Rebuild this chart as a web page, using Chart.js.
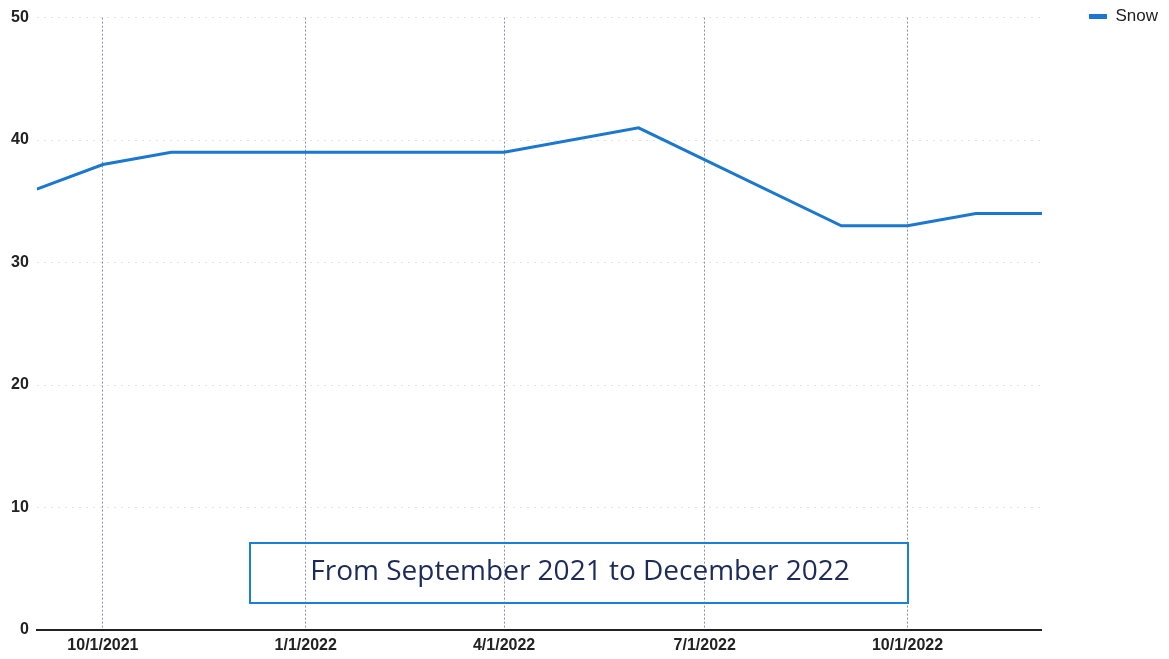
<!DOCTYPE html>
<html>
<head>
<meta charset="utf-8">
<script src="https://cdn.jsdelivr.net/npm/chart.js@4"></script>
<style>
  html, body { margin: 0; padding: 0; background: #fff; }
  #wrap { width: 1169px; height: 659px; }
</style>
</head>
<body>
<div id="wrap"><canvas id="snowChart"></canvas></div>
<script>
// data
const dates = ["2021-09-01", "2021-10-01", "2021-11-01", "2022-04-01", "2022-06-01",
               "2022-09-01", "2022-10-01", "2022-11-01", "2022-12-01"];
const snow = [36, 38, 39, 39, 41, 33, 33, 34, 34];
const tickDates = ["2021-10-01", "2022-01-01", "2022-04-01", "2022-07-01", "2022-10-01"];
const tickLabels = ["10/1/2021", "1/1/2022", "4/1/2022", "7/1/2022", "10/1/2022"];
const yTicks = [0, 10, 20, 30, 40, 50];

const blue = "#1b77cf";
const labelFont = { family: "'Liberation Sans', Arial, sans-serif", size: 16, weight: "bold" };

// the caption box below the line
const captionBox = {
  id: "captionBox",
  afterDraw(chart) {
    const ctx = chart.ctx;
    ctx.save();
    ctx.strokeStyle = "#1a7fd6";
    ctx.lineWidth = 2;
    ctx.strokeRect(250, 543, 658, 60);
    const text = "From September 2021 to December 2022";
    ctx.font = "26px 'Open Sans', sans-serif";
    const w = ctx.measureText(text).width;
    const size = 26 * 540 / w;
    ctx.font = size.toFixed(1) + "px 'Open Sans', sans-serif";
    ctx.fillStyle = "#1c2b5a";
    ctx.textAlign = "center";
    ctx.textBaseline = "alphabetic";
    ctx.fillText(text, 580, 580);
    ctx.restore();
  }
};

const chart = new Chart(document.getElementById("snowChart"), {
  type: "line",
  data: {
    datasets: [{
      label: "Snow",
      data: dates.map((d, i) => ({ x: Date.parse(d), y: snow[i] })),
      borderColor: blue,
      backgroundColor: blue,
      borderWidth: 3,
      pointRadius: 0,
      tension: 0
    }]
  },
  options: {
    responsive: true,
    maintainAspectRatio: false,
    animation: false,
    layout: { padding: { top: 6, left: 3, right: 1, bottom: 0 } },
    plugins: {
      tooltip: { enabled: false },
      legend: {
        position: "right",
        align: "start",
        labels: {
          boxWidth: 18,
          boxHeight: 5,
          padding: 2,
          color: "#222",
          font: { family: "'Liberation Sans', Arial, sans-serif", size: 17 },
          generateLabels(c) {
            return Chart.defaults.plugins.legend.labels.generateLabels(c)
              .map(item => Object.assign(item, { lineWidth: 0, fillStyle: blue }));
          }
        }
      }
    },
    scales: {
      x: {
        type: "linear",
        min: Date.parse(dates[0]),
        max: Date.parse(dates[dates.length - 1]),
        afterBuildTicks(scale) {
          scale.ticks = tickDates.map(d => ({ value: Date.parse(d) }));
        },
        afterFit(scale) { scale.height = 29; },
        ticks: {
          autoSkip: false,
          maxRotation: 0,
          padding: 6,
          color: "#222",
          font: labelFont,
          callback: (v, i) => tickLabels[i]
        },
        grid: { color: "#8a90aa", lineWidth: 1, drawTicks: false },
        border: { display: true, color: "#222", width: 2, dash: [2, 2] }
      },
      y: {
        min: 0,
        max: 50,
        afterBuildTicks(scale) {
          scale.ticks = yTicks.map(v => ({ value: v }));
        },
        ticks: { padding: 8, color: "#222", font: labelFont },
        grid: { color: "#e2e2e2", lineWidth: 1, drawTicks: false },
        border: { display: false, dash: [2, 5] }
      },
      // empty spacer between the plot and the legend
      gap: {
        position: "right",
        display: true,
        ticks: { display: false },
        grid: { display: false },
        border: { display: false },
        afterFit(scale) { scale.width = 45; }
      }
    }
  },
  plugins: [captionBox]
});
</script>
</body>
</html>
